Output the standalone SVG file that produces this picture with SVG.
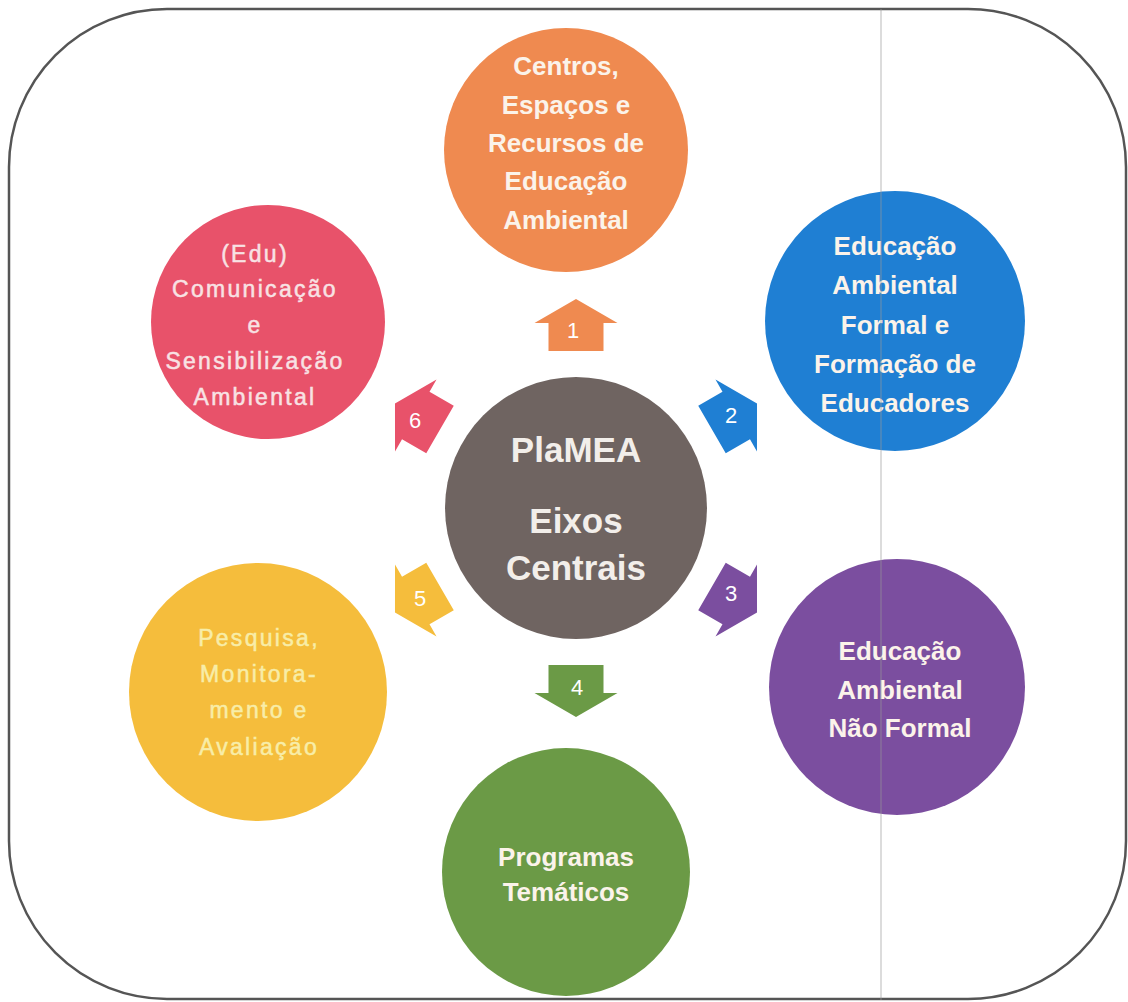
<svg xmlns="http://www.w3.org/2000/svg" width="1128" height="1002" viewBox="0 0 1128 1002">
<style>
.b{font-family:"Liberation Sans",Arial,sans-serif;font-weight:bold;font-size:26px;fill:#fbf3ea;text-anchor:middle}
.c{font-family:"Liberation Sans",Arial,sans-serif;font-weight:bold;font-size:35px;fill:#f2eeea;text-anchor:middle}
.r{font-family:"Liberation Sans",Arial,sans-serif;font-size:23px;letter-spacing:2.3px;text-anchor:middle;stroke-width:0.5px}
.n{font-family:"Liberation Sans",Arial,sans-serif;font-size:22px;fill:#ffffff;text-anchor:middle}
</style>
<defs>
<path id="arr" d="M0,-26 L41.5,-2 L27.5,-2 L27.5,26 L-27.5,26 L-27.5,-2 L-41.5,-2 Z"/>
</defs>
<rect x="0" y="0" width="1128" height="1002" fill="#ffffff"/>
<rect x="9" y="9" width="1117" height="990" rx="158" ry="158" fill="none" stroke="#555555" stroke-width="2.5"/>
<g id="connectors">
<use href="#arr" fill="#ef8a50" transform="translate(576,325)"/>
<use href="#arr" fill="#1f7fd3" transform="translate(734.5,416.5) rotate(60)"/>
<use href="#arr" fill="#7b4e9f" transform="translate(734.5,599.5) rotate(120)"/>
<use href="#arr" fill="#6b9a46" transform="translate(576,691) rotate(180)"/>
<use href="#arr" fill="#f5bd3c" transform="translate(417.5,599.5) rotate(240)"/>
<use href="#arr" fill="#e8526a" transform="translate(417.5,416.5) rotate(300)"/>
<text class="n" x="573" y="338">1</text>
<text class="n" x="731" y="423">2</text>
<text class="n" x="731" y="601">3</text>
<text class="n" x="577" y="695">4</text>
<text class="n" x="420" y="606">5</text>
<text class="n" x="415" y="428">6</text>
</g>
<g id="center">
<circle cx="576" cy="508" r="131" fill="#6f6461"/>
<text class="c" x="576" y="462">PlaMEA</text>
<text class="c" x="576" y="533">Eixos</text>
<text class="c" x="576" y="580">Centrais</text>
</g>
<g id="n1">
<circle cx="566" cy="150" r="122" fill="#ef8a50"/>
<text class="b" x="566" y="75">Centros,</text>
<text class="b" x="566" y="114">Espaços e</text>
<text class="b" x="566" y="152">Recursos de</text>
<text class="b" x="566" y="190">Educação</text>
<text class="b" x="566" y="229">Ambiental</text>
</g>
<g id="n2">
<circle cx="895" cy="321" r="130" fill="#1f7fd3"/>
<text class="b" x="895" y="255">Educação</text>
<text class="b" x="895" y="294">Ambiental</text>
<text class="b" x="895" y="334">Formal e</text>
<text class="b" x="895" y="373">Formação de</text>
<text class="b" x="895" y="412">Educadores</text>
</g>
<g id="n3">
<circle cx="897" cy="687" r="128" fill="#7b4e9f"/>
<text class="b" x="900" y="660">Educação</text>
<text class="b" x="900" y="699">Ambiental</text>
<text class="b" x="900" y="737">Não Formal</text>
</g>
<g id="n4">
<circle cx="566" cy="872" r="124" fill="#6b9a46"/>
<text class="b" x="566" y="866">Programas</text>
<text class="b" x="566" y="901">Temáticos</text>
</g>
<g id="n5">
<circle cx="258" cy="692" r="129" fill="#f5bd3c"/>
<text class="r" fill="#f8eda8" stroke="#f8eda8" x="259" y="646">Pesquisa,</text>
<text class="r" fill="#f8eda8" stroke="#f8eda8" x="259" y="682">Monitora-</text>
<text class="r" fill="#f8eda8" stroke="#f8eda8" x="259" y="718">mento e</text>
<text class="r" fill="#f8eda8" stroke="#f8eda8" x="259" y="755">Avaliação</text>
</g>
<g id="n6">
<circle cx="268" cy="322" r="117" fill="#e8526a"/>
<text class="r" fill="#f8e2e4" stroke="#f8e2e4" x="255" y="262">(Edu)</text>
<text class="r" fill="#f8e2e4" stroke="#f8e2e4" x="255" y="297">Comunicação</text>
<text class="r" fill="#f8e2e4" stroke="#f8e2e4" x="255" y="333">e</text>
<text class="r" fill="#f8e2e4" stroke="#f8e2e4" x="255" y="369">Sensibilização</text>
<text class="r" fill="#f8e2e4" stroke="#f8e2e4" x="255" y="405">Ambiental</text>
</g>
<line x1="881" y1="9" x2="881" y2="1000" stroke="#999999" stroke-opacity="0.45" stroke-width="1.5"/>
</svg>
